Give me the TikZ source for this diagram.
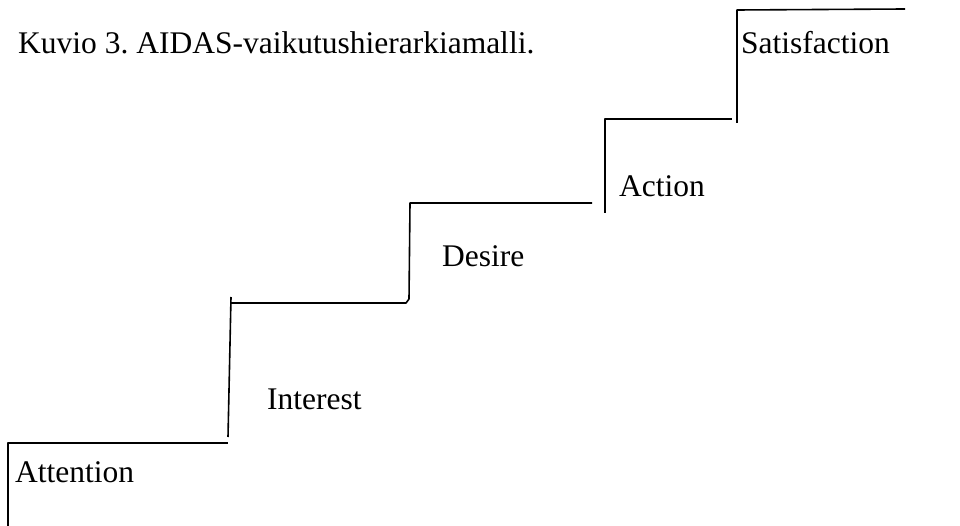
\documentclass[tikz,border=0pt]{standalone}
\usepackage{fontspec}
\setmainfont{Liberation Serif}
\usepackage{tikz}

\tikzset{
	steplabel/.style={anchor=base west, inner sep=0pt, font=\fontsize{31.5}{36}\selectfont},
	stair/.style={line width=1.6pt, line join=round}
}

\begin{document}
\begin{tikzpicture}[x=1pt, y=-1pt]
			\useasboundingbox (0,0) rectangle (960,526);
			% otsikko
			\node[steplabel] (caption) at (18,54) {Kuvio 3.\ AIDAS-vaikutushierarkiamalli.};
			% portaat
			\draw[stair] (8,526) -- (8,443) -- (228,443);
			\draw[stair] (228,437) -- (231,297);
			\draw[stair] (231,303) -- (406,303) -- (409,299) -- (410,203) -- (592,203);
			\draw[stair] (605,213) -- (605,119) -- (732,119);
			\draw[stair] (737,123) -- (737,10) -- (905,9);
			% tasot
			\node[steplabel] (attention) at (15,482) {Attention};
			\node[steplabel] (interest) at (267,409) {Interest};
			\node[steplabel] (desire) at (442,267) {Desire};
			\node[steplabel] (action) at (619,197) {Action};
			\node[steplabel] (satisfaction) at (741,54) {Satisfaction};
		\end{tikzpicture}
\end{document}
